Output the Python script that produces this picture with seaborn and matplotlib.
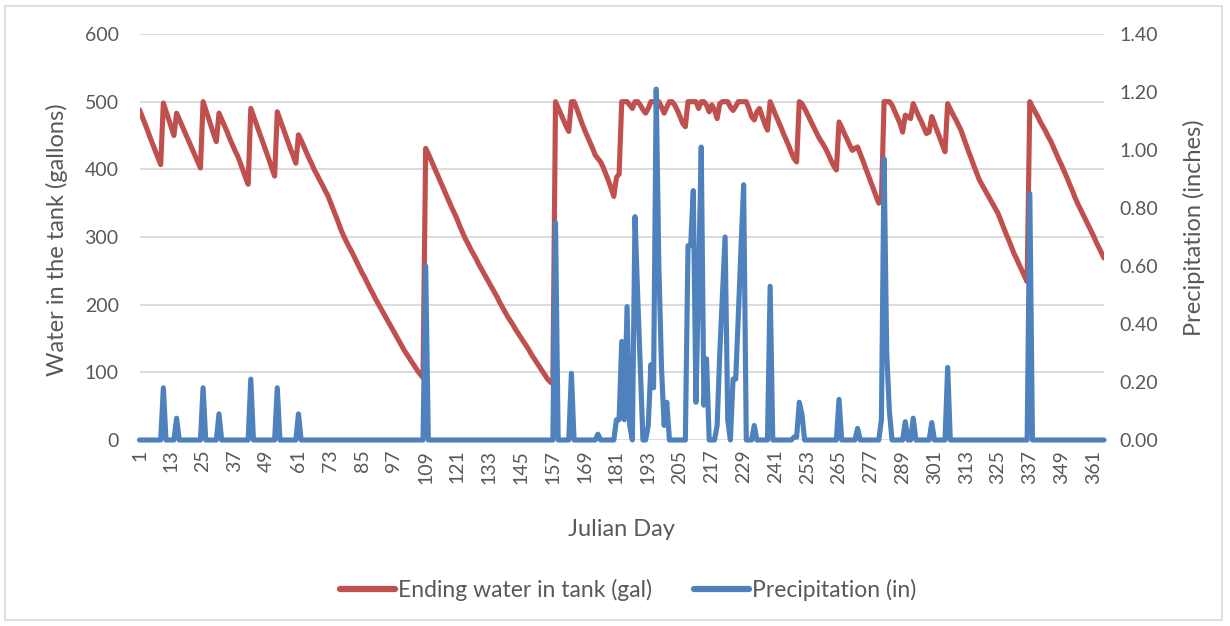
import matplotlib
matplotlib.use("Agg")
import matplotlib.pyplot as plt
import seaborn as sns
import pandas as pd
from matplotlib.patches import Rectangle
from matplotlib.lines import Line2D

# ---------------- data ----------------
days = list(range(1, 366))

tank_gal = [
    488, 478, 468, 458, 447, 437, 427, 417, 407, 498,
    486, 474, 462, 450, 483, 474, 465, 456, 447, 438,
    429, 420, 411, 402, 500, 488, 476, 464, 452, 441,
    483, 474, 465, 456, 446, 437, 428, 420, 410, 399,
    388, 378, 490, 479, 468, 457, 446, 435, 424, 413,
    401, 390, 485, 474, 463, 452, 441, 430, 420, 409,
    451, 443, 434, 425, 416, 408, 399, 392, 384, 377,
    369, 362, 352, 342, 332, 322, 311, 302, 294, 286,
    279, 271, 263, 255, 247, 240, 232, 224, 217, 209,
    202, 195, 188, 181, 174, 167, 160, 153, 146, 139,
    132, 126, 120, 114, 108, 102, 97, 92, 431, 423,
    414, 405, 396, 387, 378, 369, 360, 351, 342, 334,
    325, 315, 306, 297, 290, 282, 275, 268, 260, 253,
    246, 239, 232, 225, 218, 211, 203, 196, 189, 182,
    176, 170, 163, 157, 151, 145, 139, 133, 126, 120,
    114, 108, 102, 96, 90, 86, 83, 500, 491, 482,
    473, 464, 456, 500, 500, 490, 479, 468, 458, 449,
    440, 431, 421, 416, 411, 403, 393, 383, 372, 360,
    388, 393, 500, 500, 500, 495, 490, 500, 500, 495,
    488, 483, 490, 500, 500, 500, 500, 492, 483, 492,
    500, 500, 495, 487, 478, 468, 463, 500, 500, 500,
    500, 490, 500, 500, 495, 485, 495, 488, 475, 497,
    500, 500, 500, 492, 487, 493, 500, 500, 500, 500,
    490, 478, 473, 485, 490, 478, 467, 458, 500, 491,
    481, 472, 463, 453, 444, 435, 425, 416, 411, 500,
    497, 490, 482, 474, 466, 458, 450, 443, 437, 430,
    422, 413, 405, 399, 470, 462, 453, 445, 436, 428,
    431, 433, 423, 413, 402, 392, 381, 371, 360, 350,
    356, 500, 500, 500, 495, 486, 477, 468, 455, 480,
    478, 475, 497, 488, 479, 471, 462, 453, 455, 478,
    468, 457, 447, 436, 426, 497, 489, 481, 474, 466,
    458, 447, 436, 425, 415, 404, 394, 384, 377, 370,
    363, 356, 349, 342, 335, 325, 315, 305, 296, 286,
    276, 268, 259, 251, 242, 234, 500, 492, 485, 478,
    470, 463, 456, 448, 441, 432, 423, 414, 406, 397,
    388, 378, 369, 359, 350, 342, 334, 326, 318, 310,
    302, 293, 285, 277, 269,
]

precip_in = [
    0, 0, 0, 0, 0, 0, 0, 0, 0, 0.18,
    0, 0, 0, 0, 0.075, 0, 0, 0, 0, 0,
    0, 0, 0, 0, 0.18, 0, 0, 0, 0, 0,
    0.09, 0, 0, 0, 0, 0, 0, 0, 0, 0,
    0, 0, 0.21, 0, 0, 0, 0, 0, 0, 0,
    0, 0, 0.18, 0, 0, 0, 0, 0, 0, 0,
    0.09, 0, 0, 0, 0, 0, 0, 0, 0, 0,
    0, 0, 0, 0, 0, 0, 0, 0, 0, 0,
    0, 0, 0, 0, 0, 0, 0, 0, 0, 0,
    0, 0, 0, 0, 0, 0, 0, 0, 0, 0,
    0, 0, 0, 0, 0, 0, 0, 0, 0.60, 0,
    0, 0, 0, 0, 0, 0, 0, 0, 0, 0,
    0, 0, 0, 0, 0, 0, 0, 0, 0, 0,
    0, 0, 0, 0, 0, 0, 0, 0, 0, 0,
    0, 0, 0, 0, 0, 0, 0, 0, 0, 0,
    0, 0, 0, 0, 0, 0, 0, 0.75, 0, 0,
    0, 0, 0, 0.23, 0, 0, 0, 0, 0, 0,
    0, 0, 0, 0.02, 0, 0, 0, 0, 0, 0,
    0.07, 0.07, 0.34, 0.07, 0.46, 0.05, 0, 0.77, 0.50, 0.25,
    0, 0, 0.05, 0.26, 0.18, 1.21, 0.60, 0.25, 0.05, 0.13,
    0, 0, 0, 0, 0, 0, 0, 0.67, 0.67, 0.86,
    0.13, 0.55, 1.01, 0.12, 0.28, 0, 0, 0, 0.05, 0.30,
    0.50, 0.70, 0.07, 0, 0.21, 0.21, 0.43, 0.66, 0.88, 0,
    0, 0, 0.05, 0, 0, 0, 0, 0, 0.53, 0,
    0, 0, 0, 0, 0, 0, 0, 0.01, 0.01, 0.13,
    0.09, 0, 0, 0, 0, 0, 0, 0, 0, 0,
    0, 0, 0, 0, 0.14, 0, 0, 0, 0, 0,
    0, 0.04, 0, 0, 0, 0, 0, 0, 0, 0,
    0.07, 0.97, 0.30, 0.10, 0, 0, 0, 0, 0, 0.063,
    0, 0, 0.075, 0, 0, 0, 0, 0, 0, 0.06,
    0, 0, 0, 0, 0, 0.25, 0, 0, 0, 0,
    0, 0, 0, 0, 0, 0, 0, 0, 0, 0,
    0, 0, 0, 0, 0, 0, 0, 0, 0, 0,
    0, 0, 0, 0, 0, 0, 0.85, 0, 0, 0,
    0, 0, 0, 0, 0, 0, 0, 0, 0, 0,
    0, 0, 0, 0, 0, 0, 0, 0, 0, 0,
    0, 0, 0, 0, 0,
]

x_tick_days = [1, 13, 25, 37, 49, 61, 73, 85, 97, 109, 121, 133, 145, 157, 169,
               181, 193, 205, 217, 229, 241, 253, 265, 277, 289, 301, 313, 325,
               337, 349, 361]
left_ticks = [0, 100, 200, 300, 400, 500, 600]
right_ticks = [0.0, 0.2, 0.4, 0.6, 0.8, 1.0, 1.2, 1.4]

series_tank = "Ending water in tank (gal)"
series_precip = "Precipitation (in)"
x_title = "Julian Day"
left_title = "Water in the tank (gallons)"
right_title = "Precipitation (inches)"

# ---------------- style ----------------
sns.set_style("white")
plt.rcParams['font.family'] = ['Lato', 'DejaVu Sans']
TXT = '#595959'
RED = '#C0504D'
BLUE = '#4F81BD'
GRID = '#D9D9D9'

W, H = 1230, 626
fig = plt.figure(figsize=(W / 100, H / 100), dpi=100)
L, R, T, B = 139.5, 1104, 34, 440
ax = fig.add_axes([L / W, 1 - B / H, (R - L) / W, (B - T) / H])
ax2 = ax.twinx()

df = pd.DataFrame({'day': days, 'tank': tank_gal, 'precip': precip_in})

sns.lineplot(data=df, x='day', y='tank', ax=ax, color=RED, linewidth=3.7,
             legend=False, solid_joinstyle='round', solid_capstyle='round')
sns.lineplot(data=df, x='day', y='precip', ax=ax2, color=BLUE, linewidth=3.7,
             legend=False, solid_joinstyle='round', solid_capstyle='round',
             clip_on=False)

ax.set_xlim(1, 365)
ax.set_ylim(0, 600)
ax2.set_ylim(0, 1.4)

ax.set_yticks(left_ticks)
ax.set_yticklabels([str(v) for v in left_ticks])
ax2.set_yticks(right_ticks)
ax2.set_yticklabels([f"{v:.2f}" for v in right_ticks])
ax.set_xticks(x_tick_days)
ax.set_xticklabels([str(d) for d in x_tick_days], rotation=90)

ax.yaxis.grid(True, color=GRID, linewidth=1.3)
ax.xaxis.grid(False)
ax.set_axisbelow(True)

for a in (ax, ax2):
    for s in a.spines.values():
        s.set_visible(False)
ax2.grid(False)

ax.tick_params(axis='y', length=0, pad=15, labelsize=14, labelcolor=TXT)
ax.tick_params(axis='x', length=0, pad=7, labelsize=14, labelcolor=TXT)
ax2.tick_params(axis='y', length=0, pad=11, labelsize=14, labelcolor=TXT)

ax.set_xlabel(x_title, fontsize=17, color=TXT)
ax.set_ylabel(left_title, fontsize=17, color=TXT)
ax2.set_ylabel(right_title, fontsize=17, color=TXT, rotation=90)
ax.xaxis.set_label_coords(0.5, (B - 519) / (B - T))
ax.yaxis.set_label_coords((68 - L) / (R - L), (B - 240) / (B - T))
ax2.yaxis.set_label_coords((1183 - L) / (R - L), (B - 228) / (B - T))

handles = [Line2D([], [], color=RED, linewidth=4.5, solid_capstyle='round'),
           Line2D([], [], color=BLUE, linewidth=4.5, solid_capstyle='round')]
leg = fig.legend(handles, [series_tank, series_precip], loc='center',
                 bbox_to_anchor=(628 / W, 1 - 590 / H), ncol=2, frameon=False,
                 fontsize=16.5, handlelength=2.4, handletextpad=0.15,
                 columnspacing=1.8)
for t in leg.get_texts():
    t.set_color(TXT)

fig.patches.append(Rectangle((5 / W, 6 / H), (1222 - 5) / W, (620 - 6) / H,
                             transform=fig.transFigure, fill=False,
                             edgecolor=GRID, linewidth=1.2))

fig.savefig("out.png", dpi=100)
